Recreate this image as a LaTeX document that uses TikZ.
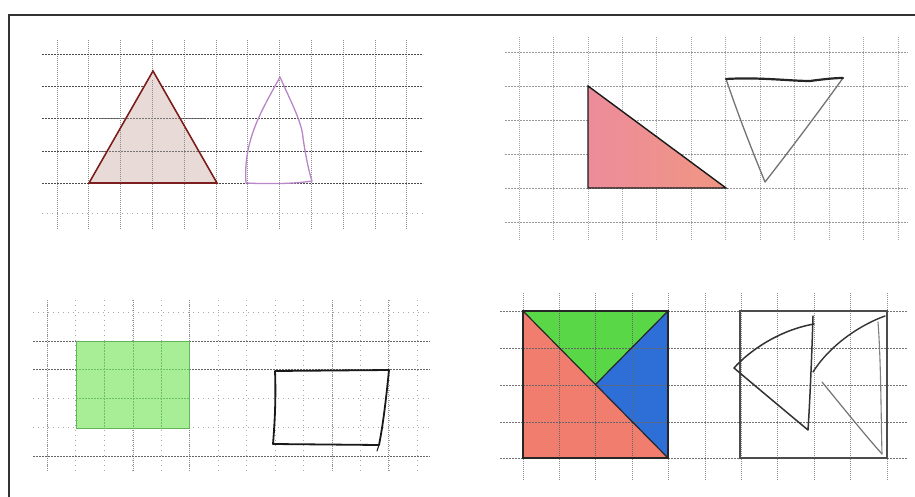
\documentclass[tikz,border=0pt]{standalone}
\begin{document}
\begin{tikzpicture}[x=1pt,y=-1pt,
  gridh/.style={draw=black!70,line width=0.9pt,dash pattern=on 2pt off 1pt},
  gridv/.style={draw=black!45,line width=0.7pt,dash pattern=on 1pt off 1pt},
  gridfaint/.style={draw=black!35,line width=0.7pt,dash pattern=on 1pt off 4pt},
  hand/.style={line width=1.3pt,line join=round,line cap=round},
  piece/.style={draw=black!85,line width=1.4pt,line join=miter}]
\useasboundingbox (0,0) rectangle (915,497);
\fill[white] (0,0) rectangle (915,497);
% frame
\draw[black!80,line width=1.8pt] (9,497) -- (9,15) -- (915,15);

% ---------- panel 1 ----------
\foreach \i in {0,...,11} \draw[gridv] ({57+31.8*\i},40) -- ({57+31.8*\i},230);
\foreach \y in {54,86,118,151,183} \draw[gridh] (42,\y) -- (423,\y);
\draw[gridfaint] (42,213) -- (423,213);
\fill[fill={rgb,255:red,232;green,218;blue,214}] (89,183) -- (153,71) -- (217,183) -- cycle;
\foreach \i in {1,2,3} \draw[gridv] ({89+31.8*\i},183) -- ({89+31.8*\i},80);
\foreach \y in {118,151} \draw[gridh,draw=black!55] (100,\y) -- (205,\y);
\draw[draw={rgb,255:red,125;green,30;blue,30},line width=1.6pt,line join=miter] (89,183) -- (153,71) -- (217,183) -- cycle;
\draw[hand,draw={rgb,255:red,185;green,135;blue,200},line width=1.3pt]
  (246,183) .. controls (243,140) and (262,110) .. (280,77)
  .. controls (290,100) and (302,122) .. (303,138)
  .. controls (306,158) and (309,172) .. (312,181)
  .. controls (295,184) and (265,184) .. (246,183);

% ---------- panel 2 ----------
\foreach \i in {0,...,11} \draw[gridv,draw=black!35] ({519+34.45*\i},37) -- ({519+34.45*\i},240);
\foreach \y in {52,86,120,154,188,222} \draw[gridh,draw=black!40,line width=0.7pt] (505,\y) -- (908,\y);
\shade[left color={rgb,255:red,236;green,140;blue,155},right color={rgb,255:red,240;green,150;blue,130}]
  (588,86) -- (588,188) -- (726,188) -- cycle;
\draw[piece,draw=black!90] (588,86) -- (588,188) -- (726,188) -- cycle;
\draw[hand,draw=black!55,line width=1.3pt] (726,79) .. controls (740,120) and (752,150) .. (765,182)
  .. controls (790,150) and (820,110) .. (843,78);
\draw[hand,draw=black!85,line width=2.2pt] (726,79) .. controls (760,77) and (790,81) .. (810,81)
  .. controls (825,79) and (835,78) .. (843,78);

% ---------- panel 3 ----------
\foreach \i in {0,...,13} \draw[gridfaint] ({47+28.5*\i},300) -- ({47+28.5*\i},472);
\foreach \x in {47,133,189,332,388} \draw[gridv] (\x,300) -- (\x,472);
\foreach \y in {312,398,427} \draw[gridfaint] (33,\y) -- (430,\y);
\foreach \y in {341,369,456} \draw[gridh,draw=black!60] (33,\y) -- (430,\y);
\fill[fill={rgb,255:red,168;green,238;blue,150}] (76,341) rectangle (189,428);
\foreach \x in {104.5,133,161.5} \draw[draw={rgb,255:red,110;green,190;blue,100},line width=0.6pt,dash pattern=on 2pt off 1pt] (\x,341) -- (\x,428);
\foreach \y in {369,398} \draw[draw={rgb,255:red,110;green,190;blue,100},line width=0.6pt,dash pattern=on 2pt off 1pt] (76,\y) -- (189,\y);
\draw[draw={rgb,255:red,100;green,180;blue,90},line width=1pt] (76,341) rectangle (189,428);
\draw[hand,draw=black!90,line width=1.8pt] (275,371) -- (389,370) .. controls (386,400) and (383,425) .. (379,445)
  -- (273,444) .. controls (275,420) and (276,395) .. (275,371);
\draw[hand,draw=black!90,line width=1pt] (379,445) -- (377,451);

% ---------- panel 4 ----------
\foreach \i in {0,...,10} \draw[gridv] ({523+36.4*\i},293) -- ({523+36.4*\i},480);
\foreach \y in {311,348,385,422,458} \draw[gridh,draw=black!55] (500,\y) -- (907,\y);
\coordinate (tl) at (523,311); \coordinate (tr) at (668,311);
\coordinate (br) at (668,458); \coordinate (bl) at (523,458);
\coordinate (c) at (595.5,384.5);
\fill[fill={rgb,255:red,240;green,125;blue,110}] (tl) -- (br) -- (bl) -- cycle;
\fill[fill={rgb,255:red,90;green,215;blue,70}] (tl) -- (tr) -- (c) -- cycle;
\fill[fill={rgb,255:red,45;green,110;blue,215}] (tr) -- (br) -- (c) -- cycle;
\foreach \i in {1,2,3} \draw[gridv,draw=black!60] ({523+36.4*\i},311) -- ({523+36.4*\i},458);
\foreach \y in {348,385,422} \draw[gridh,draw=black!60] (523,\y) -- (668,\y);
\draw[piece] (tl) rectangle (br);
\draw[piece,line width=1.2pt] (tl) -- (br);
\draw[piece,line width=1.2pt] (tr) -- (c);
% outline square
\draw[draw=black!70,line width=1.6pt] (740,311) rectangle (887,458);
% hand shapes
\draw[hand,draw=black!80,line width=1.5pt] (814,324) .. controls (780,330) and (750,350) .. (734,368)
  .. controls (760,390) and (790,415) .. (808,430)
  .. controls (810,400) and (812,350) .. (813,316);
\draw[hand,draw=black!80,line width=1.4pt] (885,316) .. controls (860,325) and (830,345) .. (813,372);
\draw[hand,draw=black!55,line width=1.2pt] (822,382) .. controls (845,410) and (865,435) .. (882,454);
\draw[hand,draw=black!50,line width=1.1pt] (878,322) .. controls (881,360) and (881,420) .. (882,454);
\end{tikzpicture}
\end{document}
